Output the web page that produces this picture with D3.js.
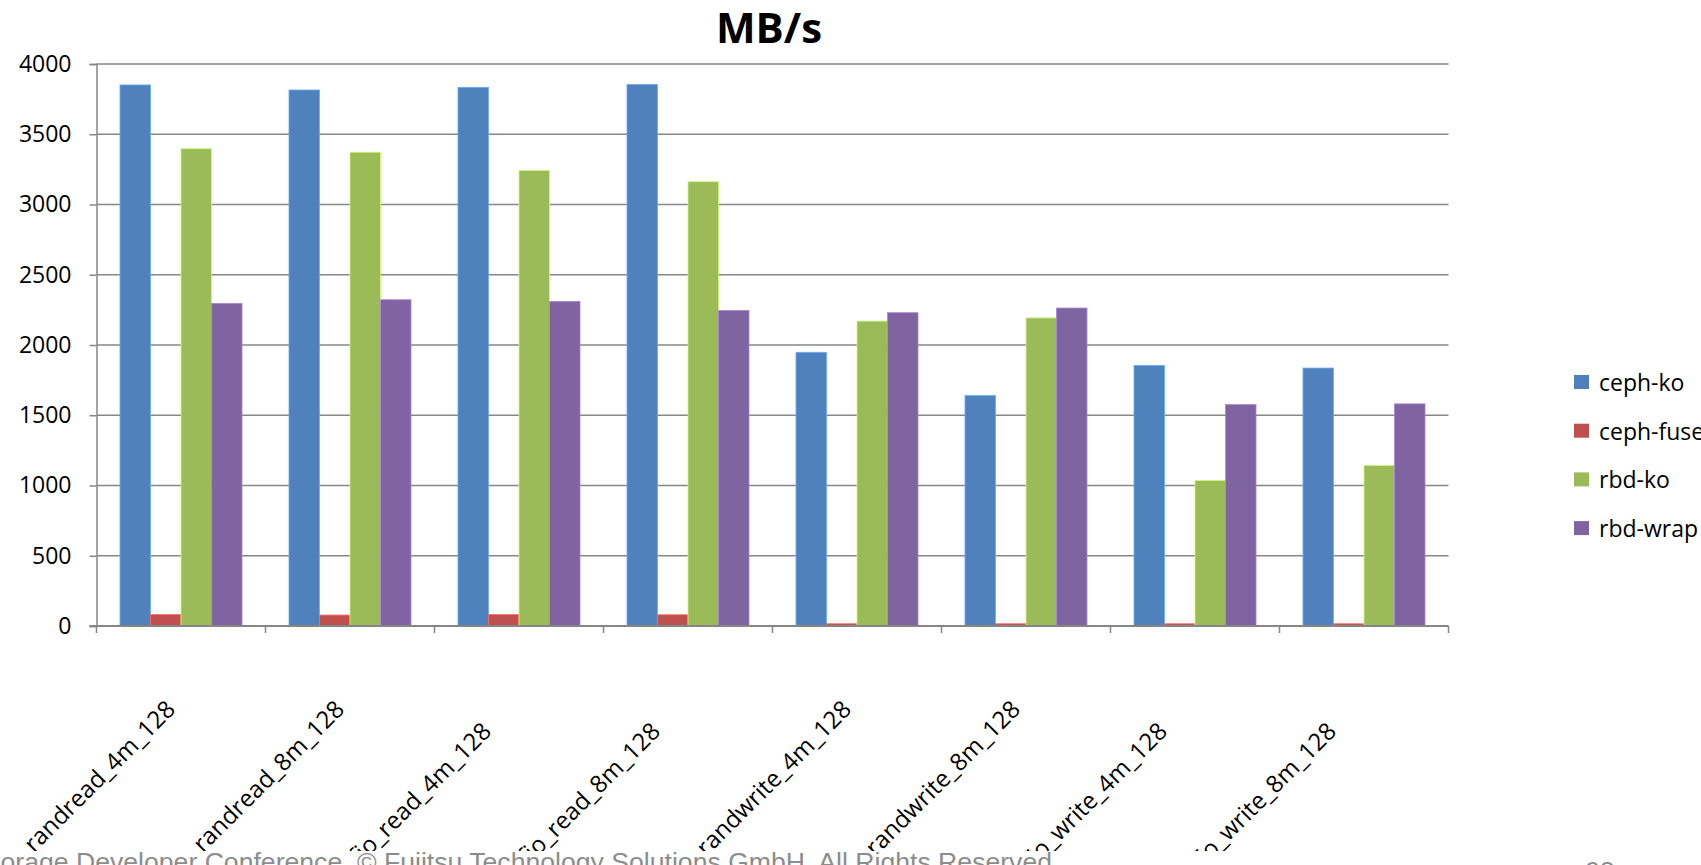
<!DOCTYPE html>
<html>
<head>
<meta charset="utf-8">
<script src="https://cdn.jsdelivr.net/npm/d3@7"></script>
<style>
  html, body { margin: 0; padding: 0; background: #fff; overflow: hidden; }
  svg { display: block; }
  text { font-family: "Open Sans", "Noto Sans", sans-serif; fill: #000; }
</style>
</head>
<body>
<svg id="chart" width="1701" height="865"></svg>
<script>
// Throughput per benchmark job, MB/s
const categories = ["randread_4m_128", "randread_8m_128", "fio_read_4m_128\u00a0\u00a0\u00a0\u00a0\u00a0",
                    "fio_read_8m_128\u00a0\u00a0\u00a0\u00a0\u00a0", "randwrite_4m_128", "randwrite_8m_128",
                    "fio_write_4m_128\u00a0\u00a0\u00a0\u00a0\u00a0", "fio_write_8m_128\u00a0\u00a0\u00a0\u00a0\u00a0"];
const seriesNames = ["ceph-ko", "ceph-fuse", "rbd-ko", "rbd-wrap"];
const cephKo   = [3851, 3815, 3834, 3855, 1948, 1640, 1855, 1836];
const cephFuse = [82, 78, 82, 80, 16, 16, 16, 16];
const rbdKo    = [3397, 3372, 3242, 3162, 2170, 2193, 1036, 1143];
const rbdWrap  = [2296, 2322, 2310, 2246, 2230, 2263, 1576, 1581];
const yTicks   = [0, 500, 1000, 1500, 2000, 2500, 3000, 3500, 4000];
const colors   = ["#4F81BD", "#C0504D", "#9BBB59", "#8064A2"];
const chartTitle = "MB/s";
const footerText = "Storage Developer Conference. © Fujitsu Technology Solutions GmbH. All Rights Reserved";
const pageNumber = "98";

const seriesValues = [cephKo, cephFuse, rbdKo, rbdWrap];
const rows = categories.map((c, i) => ({
  category: c,
  values: seriesNames.map((s, k) => ({ series: s, value: seriesValues[k][i] }))
}));

const svg = d3.select("#chart");
const plot = { left: 96.5, right: 1448.5, top: 64, bottom: 626 };

const x0 = d3.scaleBand().domain(categories).range([plot.left, plot.right]).paddingInner(0).paddingOuter(0);
const x1 = d3.scaleBand().domain(seriesNames).range([0, x0.bandwidth()]).paddingInner(0).paddingOuter(0.77);
const y = d3.scaleLinear().domain([0, 4000]).range([plot.bottom, plot.top]);
const color = d3.scaleOrdinal().domain(seriesNames).range(colors);

// horizontal gridlines
svg.append("g")
  .selectAll("line")
  .data(yTicks.filter(t => t > 0))
  .join("line")
  .attr("x1", plot.left).attr("x2", plot.right)
  .attr("y1", d => y(d)).attr("y2", d => y(d))
  .attr("stroke", "#878787").attr("stroke-width", 1.3);

// bars
svg.append("g")
  .selectAll("g")
  .data(rows)
  .join("g")
  .attr("transform", d => `translate(${x0(d.category)},0)`)
  .selectAll("rect")
  .data(d => d.values)
  .join("rect")
  .attr("x", d => x1(d.series))
  .attr("width", x1.bandwidth())
  .attr("y", d => y(d.value))
  .attr("height", d => y(0) - y(d.value))
  .attr("fill", d => color(d.series))
  .attr("stroke", d => d3.color(color(d.series)).brighter(0.8))
  .attr("stroke-width", 0.8);

// y axis
const yAxis = d3.axisLeft(y).tickValues(yTicks).tickSize(7).tickPadding(18).tickFormat(d3.format("d"));
const gy = svg.append("g").attr("transform", `translate(${plot.left},0)`).call(yAxis);
gy.select(".domain").attr("stroke", "#868686").attr("stroke-width", 1.5);
gy.selectAll(".tick line").attr("stroke", "#868686").attr("stroke-width", 1.5);
gy.selectAll(".tick text").attr("font-size", 23).style("font-family", "Open Sans").style("fill", "#000");

// x axis line and category boundary ticks
svg.append("line")
  .attr("x1", plot.left - 7).attr("x2", plot.right)
  .attr("y1", y(0)).attr("y2", y(0))
  .attr("stroke", "#868686").attr("stroke-width", 2);
const boundaries = categories.map(c => x0(c)).concat([x0(categories[categories.length - 1]) + x0.bandwidth()]);
svg.append("g")
  .selectAll("line")
  .data(boundaries)
  .join("line")
  .attr("x1", d => d).attr("x2", d => d)
  .attr("y1", y(0)).attr("y2", y(0) + 7)
  .attr("stroke", "#868686").attr("stroke-width", 1.5);

// rotated category labels
svg.append("g")
  .selectAll("text")
  .data(categories)
  .join("text")
  .attr("transform", d => `translate(${x0(d) + x0.bandwidth() / 2 - 11},704) rotate(-45)`)
  .attr("text-anchor", "end")
  .attr("dominant-baseline", "central")
  .attr("font-size", 24)
  .text(d => d);

// title
svg.append("text")
  .attr("x", 769).attr("y", 43)
  .attr("text-anchor", "middle")
  .attr("font-size", 42).attr("font-weight", "bold")
  .text(chartTitle);

// legend
const legend = svg.append("g")
  .selectAll("g")
  .data(seriesNames)
  .join("g")
  .attr("transform", (d, i) => `translate(1574,${382 + i * 48.7})`);
legend.append("rect")
  .attr("x", 0).attr("y", -7).attr("width", 15).attr("height", 14)
  .attr("fill", d => color(d));
legend.append("text")
  .attr("x", 25).attr("y", 0)
  .attr("dominant-baseline", "central")
  .attr("font-size", 23)
  .text(d => d);

// footer band
svg.append("rect").attr("x", 0).attr("y", 851).attr("width", 1701).attr("height", 14).attr("fill", "#fff");
const footerFont = "'Liberation Sans', Arial, sans-serif";
const footer = svg.append("text")
  .attr("y", 871)
  .attr("font-size", 26)
  .style("font-family", footerFont)
  .style("fill", "#8c8c8c")
  .text(footerText);
// size the line so it ends at x=1052 with its first two letters running off the left edge
const probe = svg.append("text").attr("font-size", 26).style("font-family", footerFont).text(footerText.slice(0, 2));
const lead = probe.node().getComputedTextLength();
probe.remove();
const fullAt26 = footer.node().getComputedTextLength();
const footerSize = 26 * 1052 / (fullAt26 - lead);
footer.attr("font-size", footerSize);
footer.attr("x", 1052 - footer.node().getComputedTextLength());

svg.append("text")
  .attr("x", 1600).attr("y", 880)
  .attr("text-anchor", "middle")
  .attr("font-size", 26)
  .style("font-family", footerFont)
  .style("fill", "#8c8c8c")
  .text(pageNumber);
</script>
</body>
</html>
